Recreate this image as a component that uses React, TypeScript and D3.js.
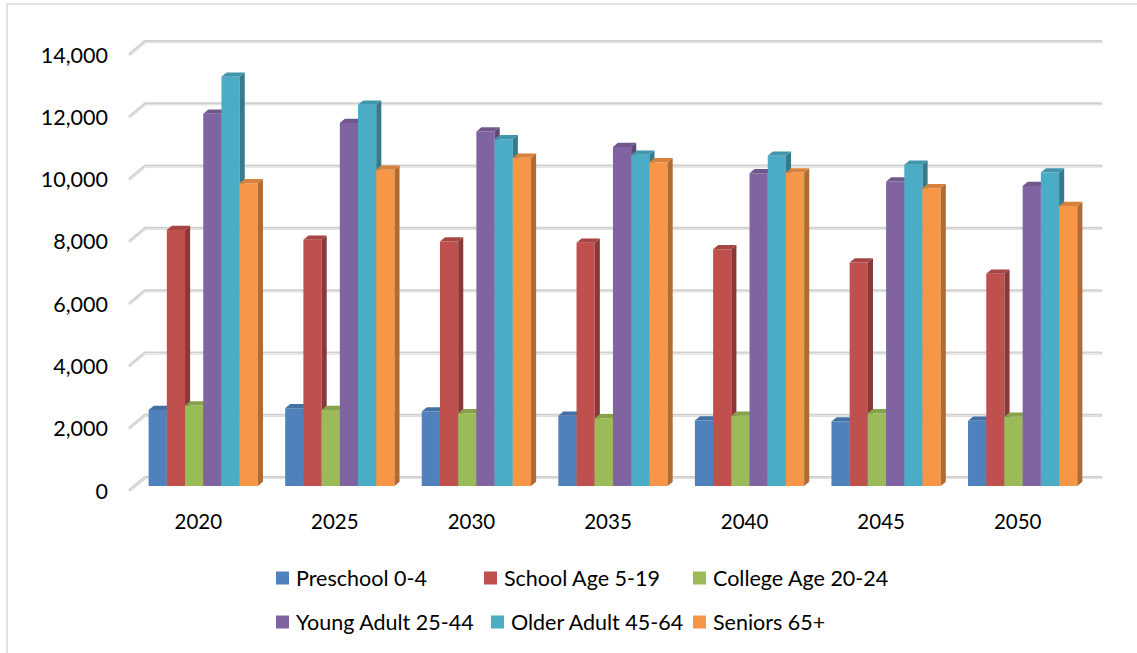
import React from "react";
import * as d3 from "d3";

// Population by age group, projected in five-year steps
const years = ["2020", "2025", "2030", "2035", "2040", "2045", "2050"];
const seriesNames = [
  "Preschool 0-4",
  "School Age 5-19",
  "College Age 20-24",
  "Young Adult 25-44",
  "Older Adult 45-64",
  "Seniors 65+",
];
const preschool = [2440, 2490, 2390, 2250, 2100, 2070, 2090];
const schoolAge = [8220, 7900, 7850, 7810, 7600, 7170, 6810];
const collegeAge = [2580, 2440, 2330, 2170, 2250, 2330, 2220];
const youngAdult = [11950, 11650, 11380, 10880, 10040, 9770, 9630];
const olderAdult = [13140, 12240, 11130, 10630, 10600, 10310, 10060];
const seniors = [9720, 10150, 10540, 10390, 10060, 9560, 8990];
const yTicks = [0, 2000, 4000, 6000, 8000, 10000, 12000, 14000];

const seriesValues = [preschool, schoolAge, collegeAge, youngAdult, olderAdult, seniors];
const colors = ["#4F81BD", "#C0504D", "#9BBB59", "#8064A2", "#4BACC6", "#F79646"];

// legend placement (two rows of three)
const legendRows = [
  { y: 578, items: [{ i: 0, sx: 276 }, { i: 1, sx: 484 }, { i: 2, sx: 693 }] },
  { y: 622, items: [{ i: 3, sx: 276 }, { i: 4, sx: 491 }, { i: 5, sx: 693 }] },
];

const W = 1137;
const H = 653;
const FONT = "Lato, 'Open Sans', sans-serif";

// oblique 3D: full floor depth moves a point right and up
const DEPTH_X = 15;
const DEPTH_Y = -12.5;
const BAR_T0 = 0.33;
const BAR_T1 = 0.67;

export default function App() {
  const x = d3.scaleBand<string>().domain(years).range([130, 1086]).paddingInner(0).paddingOuter(0);
  const bw = x.bandwidth();
  const xs = d3
    .scaleBand<string>()
    .domain(seriesNames)
    .range([bw * 0.1, bw * 0.9])
    .paddingInner(0);
  const barW = xs.bandwidth();
  const y = d3.scaleLinear().domain([0, 14000]).range([490, 54]);

  const proj = (px: number, v: number, t: number): [number, number] => [
    px + DEPTH_X * t,
    y(v) + DEPTH_Y * t,
  ];
  const poly = (pts: [number, number][]) =>
    pts.map((p) => `${p[0].toFixed(2)},${p[1].toFixed(2)}`).join(" ");

  const left = x.range()[0];
  const right = x.range()[1];

  const bars: React.ReactNode[] = [];
  years.forEach((yr, gi) => {
    seriesNames.forEach((name, si) => {
      const v = seriesValues[si][gi];
      const x0 = (x(yr) as number) + (xs(name) as number);
      const x1 = x0 + barW;
      const base = d3.color(colors[si])!;
      const side = base.darker(0.95).formatHex();
      const top = base.darker(0.4).formatHex();
      bars.push(
        <g key={`${yr}-${name}`}>
          <polygon
            points={poly([proj(x0, 0, BAR_T0), proj(x1, 0, BAR_T0), proj(x1, v, BAR_T0), proj(x0, v, BAR_T0)])}
            fill={colors[si]}
          />
          <polygon
            points={poly([proj(x1, 0, BAR_T0), proj(x1, 0, BAR_T1), proj(x1, v, BAR_T1), proj(x1, v, BAR_T0)])}
            fill={side}
          />
          <polygon
            points={poly([proj(x0, v, BAR_T0), proj(x1, v, BAR_T0), proj(x1, v, BAR_T1), proj(x0, v, BAR_T1)])}
            fill={top}
          />
        </g>
      );
    });
  });

  return (
    <svg
      width={W}
      height={H}
      style={{ position: "absolute", left: 0, top: 0, background: "#ffffff" }}
      fontFamily={FONT}
    >
      <rect x={0} y={0} width={W} height={H} fill="#ffffff" />
      {/* chart area border */}
      <rect x={7} y={4} width={W + 40} height={H + 40} fill="none" stroke="#d9d9d9" strokeWidth={1.5} />

      {/* gridlines on side and back walls */}
      {yTicks.map((t) => {
        const a = proj(left, t, 0);
        const b = proj(left, t, 1);
        const c = proj(right, t, 1);
        const d = `M${a[0]},${a[1]}L${b[0]},${b[1]}L${c[0]},${c[1]}`;
        return (
          <g key={`g${t}`}>
            <path d={d} fill="none" stroke="#cfcfcf" strokeWidth={3} strokeLinecap="round" strokeLinejoin="round" />
            <path d={d} fill="none" stroke="#e8e8e8" strokeWidth={1} strokeLinecap="round" strokeLinejoin="round" transform="translate(0,0.6)" />
          </g>
        );
      })}

      {/* value axis labels */}
      {yTicks.map((t) => (
        <text
          key={`t${t}`}
          x={108}
          y={y(t) + 1}
          dy="0.35em"
          textAnchor="end"
          fontSize={21.5}
          fill="#000000"
        >
          {d3.format(",")(t)}
        </text>
      ))}

      {bars}

      {/* category labels */}
      {years.map((yr) => (
        <text
          key={`c${yr}`}
          x={(x(yr) as number) + bw / 2}
          y={522}
          dy="0.35em"
          textAnchor="middle"
          fontSize={20.5}
          fill="#000000"
        >
          {yr}
        </text>
      ))}

      {/* legend */}
      {legendRows.map((row, ri) =>
        row.items.map((it) => (
          <g key={`l${ri}-${it.i}`}>
            <rect x={it.sx} y={row.y - 6.5} width={13} height={13} fill={colors[it.i]} />
            <text x={it.sx + 20} y={row.y} dy="0.35em" fontSize={21.5} fill="#000000">
              {seriesNames[it.i]}
            </text>
          </g>
        ))
      )}
    </svg>
  );
}
